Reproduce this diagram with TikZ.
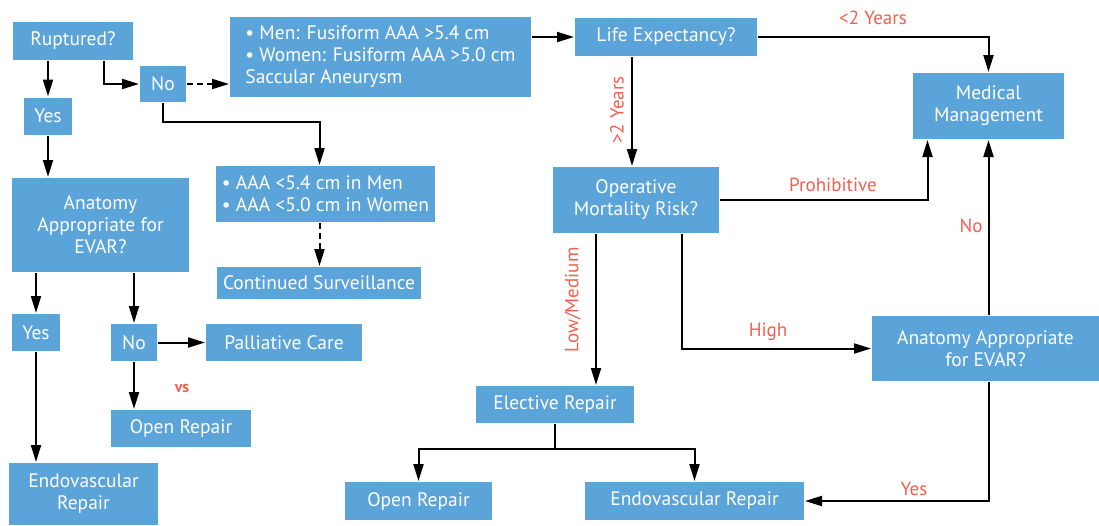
\documentclass[tikz,border=0pt]{standalone}
\usepackage{fontspec}
\setmainfont{PT Sans}
\usetikzlibrary{arrows.meta}
\definecolor{boxblue}{HTML}{5BA4DA}
\definecolor{labred}{HTML}{F0604D}

\begin{document}
\begin{tikzpicture}[x=1pt, y=-1pt, line width=2pt,
	arrows={-Triangle[length=17pt,width=10pt]},
	box/.style={fill=boxblue, text=white, align=center, inner sep=2pt, font=\fontsize{19.5}{22}\selectfont},
	lab/.style={text=labred, font=\fontsize{19}{22}\selectfont}]
	\useasboundingbox (0,0) rectangle (1099,525);
	% left branch
	\node[box, minimum width=120, minimum height=38] (rupt) at (73,41) {Ruptured?};
	\node[box, minimum width=48, minimum height=37] (yesA) at (48,116) {Yes};
	\node[box, minimum width=46, minimum height=36] (noA) at (163,84) {No};
	\node[box, minimum width=301, minimum height=80, align=left] (size) at (380.5,57) {\textbullet\ Men: Fusiform AAA >5.4 cm\\\textbullet\ Women: Fusiform AAA >5.0 cm\\Saccular Aneurysm};
	\node[box, minimum width=219, minimum height=56, align=left] (small) at (325.5,194) {\textbullet\ AAA <5.4 cm in Men\\\textbullet\ AAA <5.0 cm in Women};
	\node[box, minimum width=204, minimum height=32] (surv) at (319,283) {Continued Surveillance};
	\node[box, minimum width=177, minimum height=94] (anatL) at (100.5,225) {Anatomy\\Appropriate for\\EVAR?};
	\node[box, minimum width=48, minimum height=37] (yesB) at (36,332.5) {Yes};
	\node[box, minimum width=46, minimum height=37] (noB) at (134,342.5) {No};
	\node[box, minimum width=156, minimum height=37] (pall) at (284,342.5) {Palliative Care};
	\node[box, minimum width=140, minimum height=37] (openL) at (181,428.5) {Open Repair};
	\node[box, minimum width=149, minimum height=62] (endoL) at (83.5,494) {Endovascular\\Repair};
	% right branch
	\node[box, minimum width=182, minimum height=38] (life) at (666,37) {Life Expectancy?};
	\node[box, minimum width=151, minimum height=66] (med) at (988.5,106) {Medical\\Management};
	\node[box, minimum width=166, minimum height=66] (oper) at (636,200) {Operative\\Mortality Risk?};
	\node[box, minimum width=158, minimum height=37] (elect) at (555,404.5) {Elective Repair};
	\node[box, minimum width=227, minimum height=65] (anatR) at (985.5,348.5) {Anatomy Appropriate\\for EVAR?};
	\node[box, minimum width=147, minimum height=38] (openR) at (418.5,501) {Open Repair};
	\node[box, minimum width=219, minimum height=38] (endoR) at (694.5,501) {Endovascular Repair};
	% labels
	\node[lab, font=\bfseries\fontsize{16}{19}\selectfont] (vs) at (182,388) {vs};
	\node[lab] (lt2) at (873,18) {<2 Years};
	\node[lab, rotate=90] (gt2) at (617,110) {>2 Years};
	\node[lab] (proh) at (833,185) {Prohibitive};
	\node[lab, rotate=90] (lowmed) at (573,300) {Low/Medium};
	\node[lab] (high) at (768,332) {High};
	\node[lab] (noR) at (971,226) {No};
	\node[lab] (yesR) at (914,489) {Yes};
	% connectors
	\draw (rupt.south -| yesA) -- (yesA);
	\draw ([xshift=31]rupt.south) |- (noA);
	\draw[dash pattern=on 6pt off 4pt] (noA.east) -- (noA.east -| size.west);
	\draw (noA.south) -- ++(0,19) -| ([xshift=-6]small.north);
	\draw[dash pattern=on 6pt off 4pt] ([xshift=-6]small.south) -- ([xshift=-6]small.south |- surv.north);
	\draw (yesA) -- (yesA |- anatL.north);
	\draw (yesB |- anatL.south) -- (yesB);
	\draw (noB |- anatL.south) -- (noB);
	\draw (yesB) -- (yesB |- endoL.north);
	\draw (noB) -- (pall);
	\draw (noB) -- (noB |- openL.north);
	\draw (size.east |- life) -- (life);
	\draw (life) -| (med);
	\draw ([xshift=-34]life.south) -- ([xshift=-34]life.south |- oper.north);
	\draw (oper.east) -| ([xshift=-61]med.south);
	\draw ([xshift=-40]oper.south) -- ([xshift=-40]oper.south |- elect.north);
	\draw ([xshift=46]oper.south) |- (anatR);
	\draw (anatR.north -| med.south) -- (med.south);
	\draw (anatR.south -| med.south) |- (endoR);
	\draw[-] (elect.south) -- ++(0,25) coordinate (split);
	\draw (split) -| (openR);
	\draw (split) -| (endoR);
\end{tikzpicture}
\end{document}
